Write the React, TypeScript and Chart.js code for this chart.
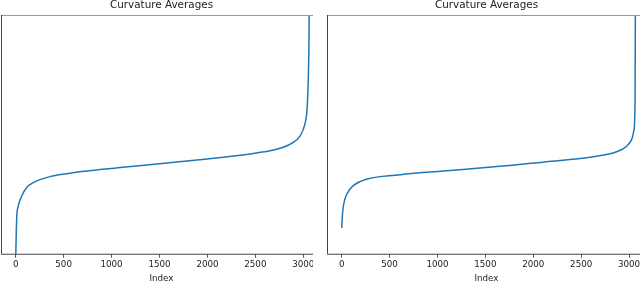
import React, { useEffect, useRef } from "react";
import { Chart, registerables } from "chart.js";

Chart.register(...registerables);

const titleText = "Curvature Averages";
const xLabel = "Index";
const xTickValues = [0, 500, 1000, 1500, 2000, 2500, 3000];

// Left panel: sorted curvature averages (index, value in arbitrary units)
const leftIndex = [0, 10, 27, 63, 115, 184, 358, 532, 705, 879, 1088, 1500, 2000, 2443, 2652, 2791, 2895, 2964, 2999, 3027, 3041, 3051, 3058, 3062];
const leftValue = [-5, 35, 48, 58, 66.5, 71.5, 77.5, 80.5, 82.8, 84.6, 86.6, 90.5, 95.3, 100.3, 103.5, 107, 112, 118, 125, 135, 148, 172, 205, 250];

// Right panel
const rightIndex = [0, 10, 34, 87, 191, 609, 1131, 1653, 2279, 2627, 2871, 2976, 3028, 3052, 3063, 3066];
const rightValue = [26, 42, 55, 65, 72.5, 79.3, 83.6, 88, 93.6, 97.5, 102.5, 108, 115, 125, 155, 250];

const spinePlugin = {
  id: "spines",
  afterDraw(chart: any) {
    const { ctx, chartArea } = chart;
    const { left, right, top, bottom } = chartArea;
    ctx.save();
    ctx.lineWidth = 1;
    ctx.strokeStyle = "#999";
    ctx.beginPath();
    ctx.moveTo(left, top + 0.5);
    ctx.lineTo(right, top + 0.5);
    ctx.stroke();
    ctx.strokeStyle = "#444";
    ctx.beginPath();
    ctx.moveTo(left + 0.5, top);
    ctx.lineTo(left + 0.5, bottom);
    ctx.moveTo(left, bottom + 0.5);
    ctx.lineTo(right, bottom + 0.5);
    ctx.stroke();
    ctx.restore();
  },
};

function Panel(props: { xs: number[]; ys: number[]; xMin: number; xMax: number; width: number; height: number }) {
  const ref = useRef<HTMLCanvasElement | null>(null);
  useEffect(() => {
    if (!ref.current) return;
    const data = props.xs.map((x, i) => ({ x, y: props.ys[i] }));
    const chart = new Chart(ref.current, {
      type: "line",
      data: {
        datasets: [
          {
            data,
            borderColor: "#1f77b4",
            borderWidth: 1.5,
            pointRadius: 0,
            fill: false,
            cubicInterpolationMode: "monotone",
          },
        ],
      },
      options: {
        animation: false,
        responsive: false,
        devicePixelRatio: 1,
        layout: { padding: { left: 1, right: 0, top: 0, bottom: 0 } },
        plugins: {
          legend: { display: false },
          tooltip: { enabled: false },
          title: {
            display: true,
            text: titleText,
            color: "#222",
            font: { family: "DejaVu Sans", size: 10.4, weight: "normal", lineHeight: 1.2 },
            padding: { top: 1, bottom: 3.5 },
          },
        },
        scales: {
          x: {
            type: "linear",
            min: props.xMin,
            max: props.xMax,
            border: { display: false },
            grid: { display: true, drawOnChartArea: false, drawTicks: true, tickLength: 4, color: "#555" },
            afterBuildTicks: (scale: any) => {
              scale.ticks = xTickValues.map((v) => ({ value: v }));
            },
            ticks: {
              autoSkip: false,
              maxRotation: 0,
              padding: 2,
              color: "#222",
              font: { family: "DejaVu Sans", size: 8.7, lineHeight: 1.2 },
              callback: (v: any) => String(v),
            },
            title: {
              display: true,
              text: xLabel,
              color: "#222",
              font: { family: "DejaVu Sans", size: 8.7, lineHeight: 1.2 },
              padding: { top: 1.4, bottom: 2 },
            },
          },
          y: {
            display: false,
            min: 0,
            max: 240,
          },
        },
      },
      plugins: [spinePlugin],
    });
    return () => chart.destroy();
  }, []);
  return (
    <canvas
      ref={ref}
      width={props.width}
      height={props.height}
      style={{ position: "absolute", left: 0, top: -2, width: props.width, height: props.height }}
    />
  );
}

export default function App() {
  return (
    <div style={{ position: "fixed", left: 0, top: 0, width: 640, height: 281, overflow: "hidden", background: "#fff" }}>
      <div style={{ position: "absolute", left: 0, top: 0, width: 313, height: 281, overflow: "hidden" }}>
        <Panel xs={leftIndex} ys={leftValue} xMin={-153.3} xMax={3195} width={322} height={288} />
      </div>
      <div style={{ position: "absolute", left: 326, top: 0, width: 320, height: 281, overflow: "hidden" }}>
        <Panel xs={rightIndex} ys={rightValue} xMin={-153.5} xMax={3177} width={320} height={288} />
      </div>
    </div>
  );
}
